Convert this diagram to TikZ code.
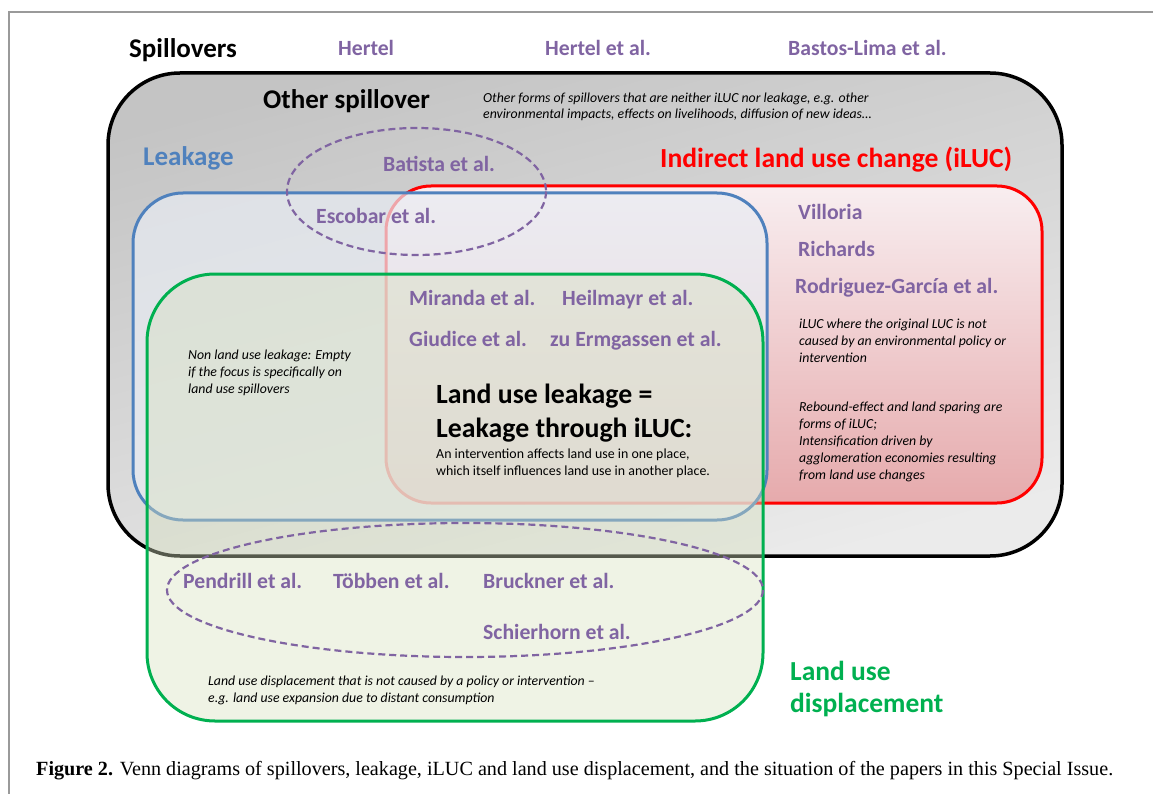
\documentclass[tikz,border=0pt]{standalone}
\usepackage{fontspec}
\usepackage{graphicx}
\setmainfont{Carlito}
\newfontfamily\capfont{Liberation Serif}
\usetikzlibrary{positioning}
\definecolor{paperpurple}{HTML}{8064A2}
\definecolor{leakblue}{HTML}{4F81BD}
\definecolor{lucgreen}{HTML}{00B050}
\definecolor{framegray}{HTML}{9A9A9A}
\definecolor{pinktop}{HTML}{F8EEF0}
\definecolor{pinkbot}{HTML}{E6AAAC}
\definecolor{bluefill}{HTML}{E8ECF3}
\definecolor{greenfill}{HTML}{D6E0BE}
\newcommand{\paper}[3]{
  \node[paper] (#1) at (#2) {#3};
}

\begin{document}
\begin{tikzpicture}[x=1pt,y=-1pt,
  paper/.style={anchor=base west,inner sep=0pt,text=paperpurple,
    font=\fontsize{21.7}{26}\selectfont\bfseries},
  heading/.style={anchor=base west,inner sep=0pt,
    font=\fontsize{27}{34}\selectfont\bfseries},
  note/.style={anchor=base west,inner sep=0pt,align=left,
    font=\fontsize{13.8}{16.8}\selectfont\itshape},
  papercircle/.style={paperpurple,line width=2.2pt,dash pattern=on 7pt off 4pt}]
\useasboundingbox (0,0) rectangle (1153,794);

% frame
\draw[framegray,line width=1.2pt] (1153,12) -- (9,12) -- (9,794);

% the four sets
\draw[black,line width=3.5pt,rounded corners=72pt,
  top color=black!23,bottom color=black!8,shading angle=15]
  (108,73) rectangle (1062,556);
\draw[red,line width=3pt,rounded corners=45pt,
  top color=pinktop,bottom color=pinkbot]
  (386,186) rectangle (1042,503);
\draw[leakblue,line width=3pt,rounded corners=50pt,
  fill=bluefill,fill opacity=0.7]
  (133,193) rectangle (767,520);
\draw[lucgreen,line width=3pt,rounded corners=68pt,
  fill=greenfill,fill opacity=0.4]
  (147,274) rectangle (763,721);

% groups of papers
\draw[papercircle] (416.5,191.5) ellipse [x radius=129.5,y radius=63.5];
\draw[papercircle] (465,590) ellipse [x radius=298,y radius=67];

% set labels (multi-line nodes sit on their last line)
\node[heading] (spill) at (129,58) {Spillovers};
\node[heading] (other) at (263,109) {Other spillover};
\node[heading,text=leakblue] (leak) at (143,166) {Leakage};
\node[heading,text=red,font=\fontsize{27.6}{34}\selectfont\bfseries]
  (iluc) at (660,168) {Indirect land use change (iLUC)};
\node[heading,align=left,font=\fontsize{27.8}{34}\selectfont\bfseries]
  (landleak) at (436,437) {Land use leakage =\\Leakage through iLUC:};
\node[anchor=base west,inner sep=0pt,align=left,
  font=\fontsize{13.9}{17}\selectfont] (interv) at (436,475)
  {An intervention affects land use in one place,\\
   which itself influences land use in another place.};
\node[heading,text=lucgreen,align=left,font=\fontsize{27.5}{32}\selectfont\bfseries]
  (displ) at (790,712) {Land use\\displacement};

% notes
\node[note] (othernote) at (483,119)
  {Other forms of spillovers that are neither iLUC nor leakage, e.g. other\\
   environmental impacts, effects on livelihoods, diffusion of new ideas\dots};
\node[note] (nonland) at (188,393)
  {Non land use leakage: Empty\\if the focus is specifically on\\land use spillovers};
\node[note] (ilucnote) at (799,362)
  {iLUC where the original LUC is not\\caused by an environmental policy or\\intervention};
\node[note] (rebound) at (799,479)
  {Rebound-effect and land sparing are\\forms of iLUC;\\Intensification driven by\\
   agglomeration economies resulting\\from land use changes};
\node[note] (displnote) at (208,702)
  {Land use displacement that is not caused by a policy or intervention --\\
   e.g. land use expansion due to distant consumption};

% papers
\paper{hertel}{338,56}{Hertel}
\paper{hertelal}{545,56}{Hertel et al.}
\paper{bastos}{788,56}{Bastos-Lima et al.}
\paper{batista}{383,172}{Batista et al.}
\paper{escobar}{316,224}{Escobar et al.}
\paper{villoria}{798,220}{Villoria}
\paper{richards}{798,257}{Richards}
\paper{rodriguez}{795,294}{Rodriguez-García et al.}
\paper{miranda}{409,305}{Miranda et al.}
\paper{heilmayr}{562,305}{Heilmayr et al.}
\paper{giudice}{409,346}{Giudice et al.}
\paper{ermgassen}{550,346}{zu Ermgassen et al.}
\paper{pendrill}{183,588}{Pendrill et al.}
\paper{tobben}{333,588}{Többen et al.}
\paper{bruckner}{483,588}{Bruckner et al.}
\paper{schierhorn}{483,639}{Schierhorn et al.}

% caption
\node[anchor=base west,inner sep=0pt] (caption) at (36,775)
  {\resizebox{1077pt}{!}{\capfont\fontsize{19}{23}\selectfont
   \textbf{Figure 2.} Venn diagrams of spillovers, leakage, iLUC and land use
   displacement, and the situation of the papers in this Special Issue.}};
\end{tikzpicture}
\end{document}
